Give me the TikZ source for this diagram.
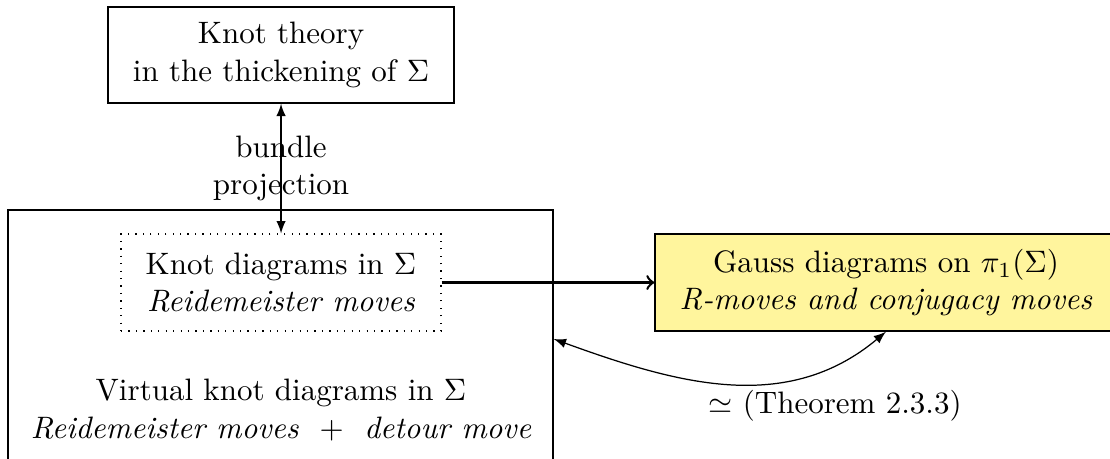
\documentclass[tikz,border=0pt]{standalone}
\usepackage{amsmath, amssymb}
\definecolor{gaussyellow}{RGB}{255,245,157}

\begin{document}
\begin{tikzpicture}
  \useasboundingbox (0,0) rectangle (12.587,-5.205);
  % Knot theory in the thickened surface
  \node[draw, align=center, minimum width=3.924cm, minimum height=1.089cm] (thick) at (3.187,-0.624) {Knot theory\\ in the thickening of $\Sigma$};
  % Big frame for virtual knots
  \node[draw, minimum width=6.180cm, minimum height=2.926cm] (virt) at (3.181,-3.844) {};
  \node[align=center] (virttext) at (3.187,-4.649) {Virtual knot diagrams in $\Sigma$\\ \textit{Reidemeister moves} \ $+$ \ \textit{detour move}};
  % Knot diagrams on the surface (dotted)
  \node[draw, dotted, align=center, minimum width=3.629cm, minimum height=1.100cm] (diag) at (3.187,-3.204) {Knot diagrams in $\Sigma$\\ \textit{Reidemeister moves}};
  % Gauss diagrams
  \node[draw, fill=gaussyellow, align=center, minimum width=5.239cm, minimum height=1.100cm] (gauss) at (10.047,-3.204) {Gauss diagrams on $\pi_1(\Sigma)$\\ \textit{R-moves and conjugacy moves}};
  % Bundle projection
  \draw[latex-latex] (thick) -- (diag) node[midway, align=center] {bundle\\ projection};
  % Map to Gauss diagrams
  \draw[->, thick] (diag) -- (gauss);
  % Equivalence
  \draw[latex-latex] (virt.east) to[out=-20, in=-140] (gauss.south);
  \node (thm) at (9.469,-4.604) {$\simeq$ (Theorem 2.3.3)};
\end{tikzpicture}
\end{document}
